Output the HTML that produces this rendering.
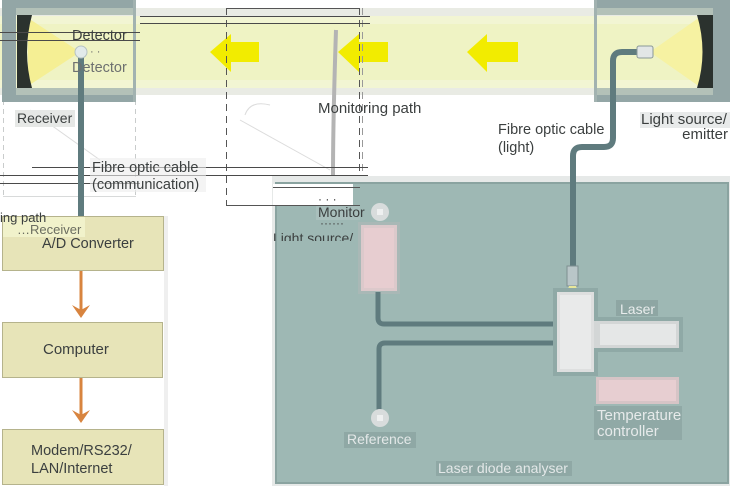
<!DOCTYPE html>
<html><head><meta charset="utf-8"><style>
html,body{margin:0;padding:0;background:#fff;}
svg{display:block}
text{font-family:"Liberation Sans",sans-serif;}
</style></head><body>
<svg width="730" height="486" viewBox="0 0 730 486" xmlns="http://www.w3.org/2000/svg">
<rect width="730" height="486" fill="#fff"/>

<!-- left faint dashed outline -->
<g stroke="#c9cccc" stroke-width="1" fill="none" stroke-dasharray="5,4">
  <line x1="3.5" y1="100" x2="3.5" y2="196"/>
  <line x1="135.5" y1="100" x2="135.5" y2="196"/>
</g>
<line x1="3" y1="196.5" x2="136" y2="196.5" stroke="#d8dada"/>

<!-- beam band -->
<rect x="0" y="8" width="730" height="87" fill="#e9ebe4"/>
<rect x="0" y="16" width="730" height="72" fill="#f2f5d3"/>
<rect x="0" y="24" width="730" height="56" fill="#eff3c4"/>

<!-- receiver box frame -->
<rect x="2" y="0" width="134" height="15" fill="#93a6a6"/>
<rect x="2" y="88" width="134" height="14" fill="#93a6a6"/>
<rect x="2" y="0" width="14" height="102" fill="#93a6a6"/>
<rect x="16" y="8" width="120" height="7" fill="#b3c1b8"/>
<rect x="16" y="88" width="120" height="7" fill="#b3c1b8"/>
<rect x="133" y="0" width="3" height="102" fill="#a2b2b0"/>
<polygon points="28,18 80,52 28,86" fill="#f5ef94"/>
<path d="M17,15 L32,15 Q22,52 32,88 L17,88 Z" fill="#2b322e"/>

<!-- emitter box frame -->
<rect x="594" y="0" width="136" height="15" fill="#93a6a6"/>
<rect x="594" y="88" width="136" height="14" fill="#93a6a6"/>
<rect x="713" y="0" width="17" height="102" fill="#93a6a6"/>
<rect x="594" y="8" width="119" height="7" fill="#b3c1b8"/>
<rect x="594" y="88" width="119" height="7" fill="#b3c1b8"/>
<rect x="594" y="0" width="3" height="102" fill="#a2b2b0"/>
<polygon points="650,52 700,17 706,52 700,87" fill="#f6f2a2"/>
<path d="M713,15 L697,15 Q708,52 697,88 L713,88 Z" fill="#2b322e"/>

<!-- yellow arrows -->
<g fill="#f2ec00">
  <polygon points="210,52 231,34 231,42 259,42 259,62 231,62 231,72"/>
  <polygon points="338,52 359,34 359,42 388,42 388,62 359,62 359,72"/>
  <polygon points="467,52 487,34 487,42 518,42 518,62 487,62 487,72"/>
</g>

<!-- dashed middle box -->
<g stroke="#555" stroke-width="1" fill="none">
  <line x1="226" y1="8.5" x2="360" y2="8.5"/>
  <line x1="226.5" y1="8" x2="226.5" y2="206" stroke-dasharray="7,5"/>
  <line x1="359.5" y1="8" x2="359.5" y2="206" stroke-dasharray="7,5"/>
  <line x1="362.5" y1="8" x2="362.5" y2="206" stroke="#999" stroke-dasharray="7,5"/>
</g>
<path d="M336,30 Q333,120 333,175" stroke="#b4b4b4" stroke-width="4" fill="none"/>
<g stroke="#dcdcdc" stroke-width="1" fill="none">
  <line x1="30" y1="110" x2="100" y2="160"/>
  <line x1="240" y1="120" x2="330" y2="170"/>
  <path d="M245,115 Q250,100 270,105"/>
</g>

<!-- thin lines -->
<g stroke="#4a4a4a" stroke-width="1">
  <line x1="0" y1="32.5" x2="140" y2="32.5"/>
  <line x1="0" y1="40.5" x2="140" y2="40.5"/>
  <line x1="140" y1="16.5" x2="370" y2="16.5"/>
  <line x1="140" y1="23.5" x2="370" y2="23.5"/>
  <line x1="32" y1="167.5" x2="368" y2="167.5"/>
  <line x1="0" y1="175.5" x2="368" y2="175.5"/>
  <line x1="0" y1="183.5" x2="140" y2="183.5"/>
</g>

<!-- detector cable -->
<rect x="78" y="55" width="6" height="161" fill="#5f7b7e"/>
<circle cx="81" cy="52" r="6" fill="#e2eaea" stroke="#b5c2c2" stroke-width="1"/>

<!-- labels top -->
<text x="72" y="40" font-size="14.5" fill="#3b3f3f">Detector</text>
<text x="90" y="55" font-size="11" fill="#666">·   ·</text>
<text x="72" y="72" font-size="14.5" fill="#6d7070">Detector</text>
<rect x="15" y="110" width="60" height="17" fill="#e6e8e6"/>
<text x="17" y="123" font-size="14" fill="#3b3f3f">Receiver</text>
<rect x="90" y="158" width="116" height="34" fill="#ececec" opacity="0.6"/>
<text x="92" y="172" font-size="14.5" fill="#3b3f3f">Fibre optic cable</text>
<text x="92" y="189" font-size="14.5" fill="#3b3f3f">(communication)</text>
<text x="318" y="113" font-size="15" fill="#3b3f3f">Monitoring path</text>
<text x="498" y="134" font-size="14.5" fill="#3b3f3f">Fibre optic cable</text>
<text x="498" y="152" font-size="14.5" fill="#3b3f3f">(light)</text>
<rect x="640" y="112" width="90" height="16" fill="#e8eaea"/>
<text x="641" y="124" font-size="15" fill="#3b3f3f">Light source/</text>
<text x="728" y="139" font-size="15" fill="#3b3f3f" text-anchor="end">emitter</text>

<!-- teal analyser box -->
<rect x="272" y="176" width="458" height="310" fill="#e6e9e8"/>
<rect x="276" y="183" width="452" height="300" fill="#9eb8b4" stroke="#8aa3a0" stroke-width="2"/>
<rect x="273" y="184" width="80" height="22" fill="#fff"/>
<line x1="273" y1="187.5" x2="360" y2="187.5" stroke="#555"/>
<line x1="226" y1="205.5" x2="360" y2="205.5" stroke="#555"/>

<!-- emitter fibre -->
<path d="M640,52 H622 Q613,52 613,61 V138 Q613,147 604,147 H582 Q573,147 573,156 V268" stroke="#5f7b7e" stroke-width="6" fill="none"/>
<rect x="637" y="46" width="16" height="12" rx="2" fill="#e2e6e6" stroke="#8a9898"/>
<rect x="567" y="266" width="11" height="20" fill="#b9c6c8" stroke="#7d8f91"/>
<polygon points="569,286 576,286 578,292 567,292" fill="#e8e79a"/>

<!-- monitor -->
<circle cx="380" cy="212" r="9" fill="#d8dcdc"/>
<rect x="377" y="209" width="6" height="6" fill="#eef0f0"/>
<rect x="358" y="222" width="42" height="72" fill="#a9b8b6"/>
<rect x="361" y="225" width="36" height="66" fill="#dcc9cb"/>
<rect x="364" y="228" width="30" height="60" fill="#e7cdd0"/>
<path d="M378,292 V318 Q378,324 384,324 H558" stroke="#5f7b7e" stroke-width="5" fill="none"/>
<path d="M558,343 H385 Q379,343 379,349 V410" stroke="#5f7b7e" stroke-width="5" fill="none"/>
<circle cx="380" cy="418" r="9" fill="#d8dcdc"/>
<rect x="377" y="415" width="6" height="6" fill="#eef0f0"/>

<!-- laser -->
<rect x="553" y="288" width="45" height="88" fill="#8fa9a6"/>
<rect x="591" y="317" width="92" height="35" fill="#8fa9a6"/>
<rect x="557" y="292" width="37" height="80" fill="#dedfdf"/>
<rect x="560" y="295" width="31" height="74" fill="#e9eaea"/>
<rect x="594" y="321" width="85" height="27" fill="#d3d6d6"/>
<rect x="600" y="324" width="76" height="21" fill="#e5e7e7"/>
<rect x="616" y="300" width="42" height="16" fill="#8ea6a3"/>
<text x="620" y="314" font-size="14" fill="#e8ecec">Laser</text>

<!-- temperature controller -->
<rect x="596" y="377" width="83" height="27" fill="#d6c4c6"/>
<rect x="599" y="380" width="77" height="21" fill="#e7ced1"/>
<rect x="594" y="406" width="88" height="34" fill="#90a9a6"/>
<text x="597" y="420" font-size="15" fill="#e6eaea">Temperature</text>
<text x="597" y="436" font-size="15" fill="#e6eaea">controller</text>

<rect x="344" y="432" width="72" height="16" fill="#8fa8a5"/>
<text x="347" y="444" font-size="14" fill="#e3e8e8">Reference</text>
<rect x="436" y="461" width="136" height="15" fill="#8fa8a5"/>
<text x="438" y="473" font-size="14" fill="#e3e8e8">Laser diode analyser</text>

<!-- ghost labels near monitor -->
<text x="318" y="203" font-size="12" fill="#333">·    ·   ·</text>
<rect x="316" y="206" width="44" height="14" fill="#a9bfbc"/>
<text x="318" y="217" font-size="14" fill="#3b3f3f">Monitor</text>
<text x="320" y="227" font-size="12" fill="#444">······</text>
<svg x="272" y="230" width="90" height="11" overflow="hidden">
  <text x="1" y="13" font-size="14" fill="#3b3f3f">Light source/</text>
</svg>

<!-- left process boxes -->
<rect x="164" y="216" width="4" height="270" fill="#efefef"/>
<rect x="2.5" y="216.5" width="161" height="54" fill="#e7e4b8" stroke="#b5b38c"/>
<rect x="3" y="217" width="82" height="20" fill="#f1f2cb"/>
<text x="0" y="222" font-size="13" fill="#3b3f3f">ing path</text>
<text x="17" y="234" font-size="13" fill="#6b6d60">…Receiver</text>
<text x="42" y="248" font-size="14.5" fill="#3b3f3f">A/D Converter</text>

<line x1="81" y1="271" x2="81" y2="311" stroke="#d8843f" stroke-width="3"/>
<path d="M72,305 L81,318 L90,305 L81,310 Z" fill="#d8843f"/>

<rect x="2.5" y="322.5" width="160" height="55" fill="#e7e4b8" stroke="#b5b38c"/>
<text x="43" y="354" font-size="15" fill="#3b3f3f">Computer</text>

<line x1="81" y1="378" x2="81" y2="417" stroke="#d8843f" stroke-width="3"/>
<path d="M72,410 L81,423 L90,410 L81,415 Z" fill="#d8843f"/>

<rect x="2.5" y="429.5" width="161" height="55" fill="#e7e4b8" stroke="#b5b38c"/>
<text x="31" y="455" font-size="14.5" fill="#3b3f3f">Modem/RS232/</text>
<text x="31" y="473" font-size="14.5" fill="#3b3f3f">LAN/Internet</text>
</svg>
</body></html>
